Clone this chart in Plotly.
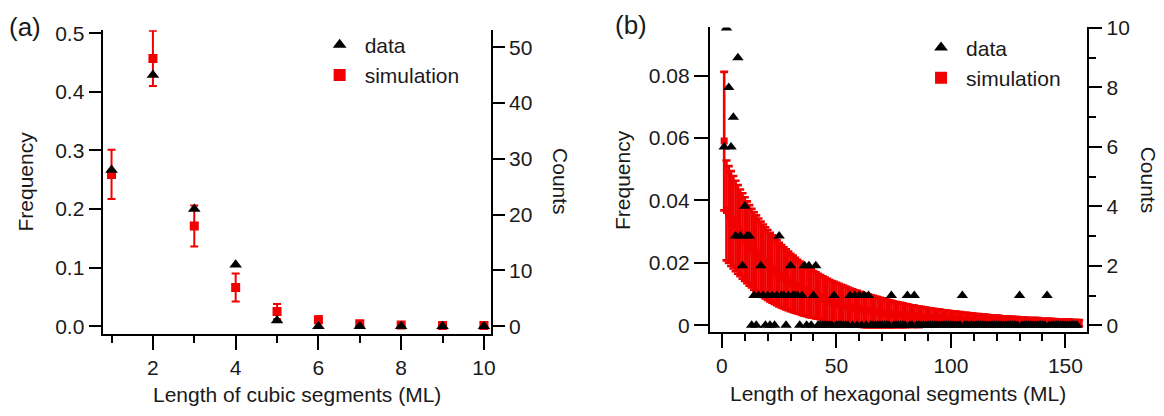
import plotly.graph_objects as go

W, H = 1164, 416

# ---------------- Panel (a): cubic segments ----------------
len_a = [1, 2, 3, 4, 5, 6, 7, 8, 9, 10]
counts_a = [28, 45, 21, 11, 1, 0, 0, 0, 0, 0]
sim_a_mean = [0.259, 0.457, 0.171, 0.066, 0.025, 0.011, 0.004, 0.002, 0.001, 0.001]
sim_a_err = [0.042, 0.047, 0.035, 0.024, 0.013, 0.006, 0.003, 0.002, 0.001, 0.001]
freq_ticks_a = [0.0, 0.1, 0.2, 0.3, 0.4, 0.5]
count_ticks_a = [0, 10, 20, 30, 40, 50]

# ---------------- Panel (b): hexagonal segments ----------------
len_b_data = list(range(1, 156))
counts_b = [6, 10, 8, 6, 7, 3, 9, 3, 2, 4,
            3, 3, 0, 1, 0, 1, 2, 1, 0, 1,
            0, 1, 0, 1, 3, 1, 1, 0, 1, 2,
            1, 1, 1, 0, 1, 2, 0, 2, 0, 1,
            2, 0, 0, 0, 0, 0, 0, 0, 1, 0,
            0, 0, 0, 0, 0, 1, 0, 1, 0, 1,
            0, 1, 0, 1, 0, 0, 0, 0, 0, 0,
            0, 0, 0, 1, 0, 0, 0, 0, 0, 0,
            1, 0, 0, 1, 0, 0, 0, 0, 0, 0,
            0, 0, 0, 0, 0, 0, 0, 0, 0, 0,
            0, 0, 0, 0, 1, 0, 0, 0, 0, 0,
            0, 0, 0, 0, 0, 0, 0, 0, 0, 0,
            0, 0, 0, 0, 0, 0, 0, 0, 0, 1,
            0, 0, 0, 0, 0, 0, 0, 0, 0, 0,
            0, 1, 0, 0, 0, 0, 0, 0, 0, 0,
            0, 0, 0, 0, 0]
len_b_sim = list(range(1, 157))
sim_b_mean = [0.0590, 0.0368, 0.0355, 0.0342, 0.0330, 0.0318, 0.0307, 0.0296, 0.0286, 0.0276,
              0.0266, 0.0256, 0.0247, 0.0238, 0.0230, 0.0222, 0.0214, 0.0207, 0.0200, 0.0193,
              0.0186, 0.0180, 0.0174, 0.0168, 0.0162, 0.0157, 0.0152, 0.0147, 0.0142, 0.0137,
              0.0133, 0.0128, 0.0124, 0.0120, 0.0116, 0.0112, 0.0109, 0.0105, 0.0102, 0.0099,
              0.0096, 0.0093, 0.0090, 0.0087, 0.0084, 0.0081, 0.0078, 0.0076, 0.0073, 0.0070,
              0.0068, 0.0066, 0.0064, 0.0062, 0.0060, 0.0058, 0.0056, 0.0054, 0.0053, 0.0051,
              0.0050, 0.0048, 0.0047, 0.0046, 0.0045, 0.0044, 0.0043, 0.0042, 0.0041, 0.0040,
              0.0039, 0.0038, 0.0037, 0.0036, 0.0035, 0.0034, 0.0034, 0.0033, 0.0032, 0.0031,
              0.0031, 0.0030, 0.0029, 0.0029, 0.0028, 0.0027, 0.0027, 0.0026, 0.0026, 0.0025,
              0.0025, 0.0024, 0.0024, 0.0023, 0.0023, 0.0022, 0.0022, 0.0021, 0.0021, 0.0020,
              0.0020, 0.0020, 0.0019, 0.0019, 0.0018, 0.0018, 0.0018, 0.0017, 0.0017, 0.0017,
              0.0016, 0.0016, 0.0016, 0.0015, 0.0015, 0.0015, 0.0014, 0.0014, 0.0014, 0.0014,
              0.0013, 0.0013, 0.0013, 0.0012, 0.0012, 0.0012, 0.0012, 0.0011, 0.0011, 0.0011,
              0.0011, 0.0011, 0.0010, 0.0010, 0.0010, 0.0010, 0.0010, 0.0010, 0.0009, 0.0009,
              0.0009, 0.0009, 0.0009, 0.0009, 0.0009, 0.0008, 0.0008, 0.0008, 0.0008, 0.0008,
              0.0008, 0.0008, 0.0007, 0.0007, 0.0007, 0.0007]
sim_b_err = [0.0222, 0.0160, 0.0155, 0.0152, 0.0148, 0.0145, 0.0142, 0.0139, 0.0137, 0.0134,
             0.0131, 0.0129, 0.0126, 0.0124, 0.0122, 0.0120, 0.0118, 0.0116, 0.0114, 0.0112,
             0.0110, 0.0108, 0.0106, 0.0104, 0.0102, 0.0100, 0.0098, 0.0096, 0.0094, 0.0092,
             0.0090, 0.0088, 0.0086, 0.0084, 0.0083, 0.0081, 0.0080, 0.0078, 0.0077, 0.0075,
             0.0074, 0.0072, 0.0071, 0.0070, 0.0069, 0.0068, 0.0067, 0.0066, 0.0066, 0.0066,
             0.0065, 0.0064, 0.0063, 0.0062, 0.0061, 0.0060, 0.0059, 0.0058, 0.0057, 0.0056,
             0.0055, 0.0054, 0.0053, 0.0052, 0.0051, 0.0050, 0.0049, 0.0048, 0.0047, 0.0046,
             0.0045, 0.0044, 0.0043, 0.0042, 0.0041, 0.0040, 0.0039, 0.0039, 0.0038, 0.0037,
             0.0036, 0.0035, 0.0035, 0.0034, 0.0033, 0.0033, 0.0032, 0.0031, 0.0031, 0.0030,
             0.0029, 0.0029, 0.0028, 0.0028, 0.0027, 0.0027, 0.0026, 0.0026, 0.0025, 0.0025,
             0.0024, 0.0024, 0.0023, 0.0023, 0.0022, 0.0022, 0.0022, 0.0021, 0.0021, 0.0020,
             0.0020, 0.0020, 0.0019, 0.0019, 0.0019, 0.0018, 0.0018, 0.0018, 0.0017, 0.0017,
             0.0017, 0.0016, 0.0016, 0.0016, 0.0016, 0.0015, 0.0015, 0.0015, 0.0015, 0.0014,
             0.0014, 0.0014, 0.0014, 0.0013, 0.0013, 0.0013, 0.0013, 0.0013, 0.0012, 0.0012,
             0.0012, 0.0012, 0.0012, 0.0011, 0.0011, 0.0011, 0.0011, 0.0011, 0.0011, 0.0010,
             0.0010, 0.0010, 0.0010, 0.0010, 0.0010, 0.0010]
freq_ticks_b = [0, 0.02, 0.04, 0.06, 0.08]
freq_ticktext_b = ["0", "0.02", "0.04", "0.06", "0.08"]
count_ticks_b = [0, 2, 4, 6, 8, 10]

N_TOTAL = 105  # counts per unit frequency (scale between left and right axes)

FONT = "Liberation Sans, Arial, sans-serif"
TXT = "#1a1a1a"
RED = "#f00000"
FS = 21

def px(x):
    return x / W

def py(y):
    return 1 - y / H

fig = go.Figure()

# Panel (a)
fig.add_trace(go.Scatter(
    x=len_a, y=sim_a_mean, xaxis="x", yaxis="y", mode="markers", name="simulation",
    marker=dict(symbol="square", size=9, color=RED),
    error_y=dict(type="data", array=sim_a_err, color=RED, thickness=2, width=4),
    legend="legend", legendrank=2))
fig.add_trace(go.Scatter(
    x=len_a, y=counts_a, xaxis="x", yaxis="y2", mode="markers", name="data",
    marker=dict(symbol="triangle-up", size=11, color="black"),
    legend="legend", legendrank=1))

# Panel (b)
fig.add_trace(go.Scatter(
    x=len_b_sim, y=sim_b_mean, xaxis="x2", yaxis="y3", mode="markers", name="simulation",
    marker=dict(symbol="square", size=7, color=RED),
    error_y=dict(type="data", array=sim_b_err, color=RED, thickness=2.6, width=4),
    legend="legend2", legendrank=2))
fig.add_trace(go.Scatter(
    x=len_b_data, y=counts_b, xaxis="x2", yaxis="y4", mode="markers", name="data",
    marker=dict(symbol="triangle-up", size=10, color="black"),
    legend="legend2", legendrank=1))

ax_common = dict(showgrid=False, zeroline=False, showline=True, linewidth=2, linecolor="black",
                 ticks="outside", tickwidth=2, tickcolor="black",
                 tickfont=dict(family=FONT, size=FS, color=TXT))

ya_rng = [-0.0132, 0.505]
yb_rng = [-0.00216, 0.09544]

leg_common = dict(xanchor="left", yanchor="top", bgcolor="rgba(0,0,0,0)",
                  font=dict(family=FONT, size=FS, color=TXT), itemwidth=40,
                  tracegroupgap=0, itemsizing="constant")

fig.update_layout(
    width=W, height=H, margin=dict(l=0, r=0, t=0, b=0),
    paper_bgcolor="white", plot_bgcolor="white",
    font=dict(family=FONT, size=FS, color=TXT),
    xaxis=dict(domain=[px(103), px(493)], anchor="y", range=[0.783, 10.168],
               tick0=0, dtick=2, ticklen=14,
               minor=dict(dtick=1, tick0=0, ticklen=7, tickwidth=2, tickcolor="black", ticks="outside"),
               **ax_common),
    yaxis=dict(domain=[py(335), py(20)], anchor="x", range=ya_rng,
               tickvals=freq_ticks_a, ticktext=[f"{v:.1f}" for v in freq_ticks_a], ticklen=12,
               **ax_common),
    yaxis2=dict(overlaying="y", side="right", anchor="x",
                range=[ya_rng[0] * N_TOTAL, ya_rng[1] * N_TOTAL],
                tickvals=count_ticks_a, ticklen=12, **ax_common),
    xaxis2=dict(domain=[px(713), px(1092)], anchor="y3", range=[-5.22, 159.57],
                tick0=0, dtick=50, ticklen=14,
                minor=dict(dtick=10, tick0=0, ticklen=7, tickwidth=2, tickcolor="black", ticks="outside"),
                **ax_common),
    yaxis3=dict(domain=[py(333), py(17)], anchor="x2", range=yb_rng,
                tickvals=freq_ticks_b, ticktext=freq_ticktext_b, ticklen=14, **ax_common),
    yaxis4=dict(overlaying="y3", side="right", anchor="x2",
                range=[yb_rng[0] * N_TOTAL, yb_rng[1] * N_TOTAL],
                tickvals=count_ticks_b, ticklen=13,
                minor=dict(dtick=1, tick0=0, ticklen=7, tickwidth=2, tickcolor="black", ticks="outside"),
                **ax_common),
    legend=dict(x=px(316), y=py(14), **leg_common),
    legend2=dict(x=px(920), y=py(17), **leg_common),
    showlegend=True,
)

annos = [
    dict(text="(a)", x=px(25), y=py(17), size=26, angle=0),
    dict(text="(b)", x=px(634), y=py(15), size=26, angle=0),
    dict(text="Frequency", x=px(26), y=py(177), size=FS, angle=-90),
    dict(text="Counts", x=px(563), y=py(177), size=FS, angle=90),
    dict(text="Frequency", x=px(625), y=py(175), size=FS, angle=-90),
    dict(text="Counts", x=px(1153), y=py(175), size=FS, angle=90),
    dict(text="Length of cubic segments (ML)", x=px(298), y=py(398), size=FS, angle=0),
    dict(text="Length of hexagonal segments (ML)", x=px(902), y=py(397), size=FS, angle=0),
]
for a in annos:
    fig.add_annotation(text=a["text"], x=a["x"], y=a["y"], xref="paper", yref="paper",
                       xanchor="center", yanchor="middle", showarrow=False, textangle=a["angle"],
                       font=dict(family=FONT, size=a["size"], color=TXT))

fig.write_html("out.html")
